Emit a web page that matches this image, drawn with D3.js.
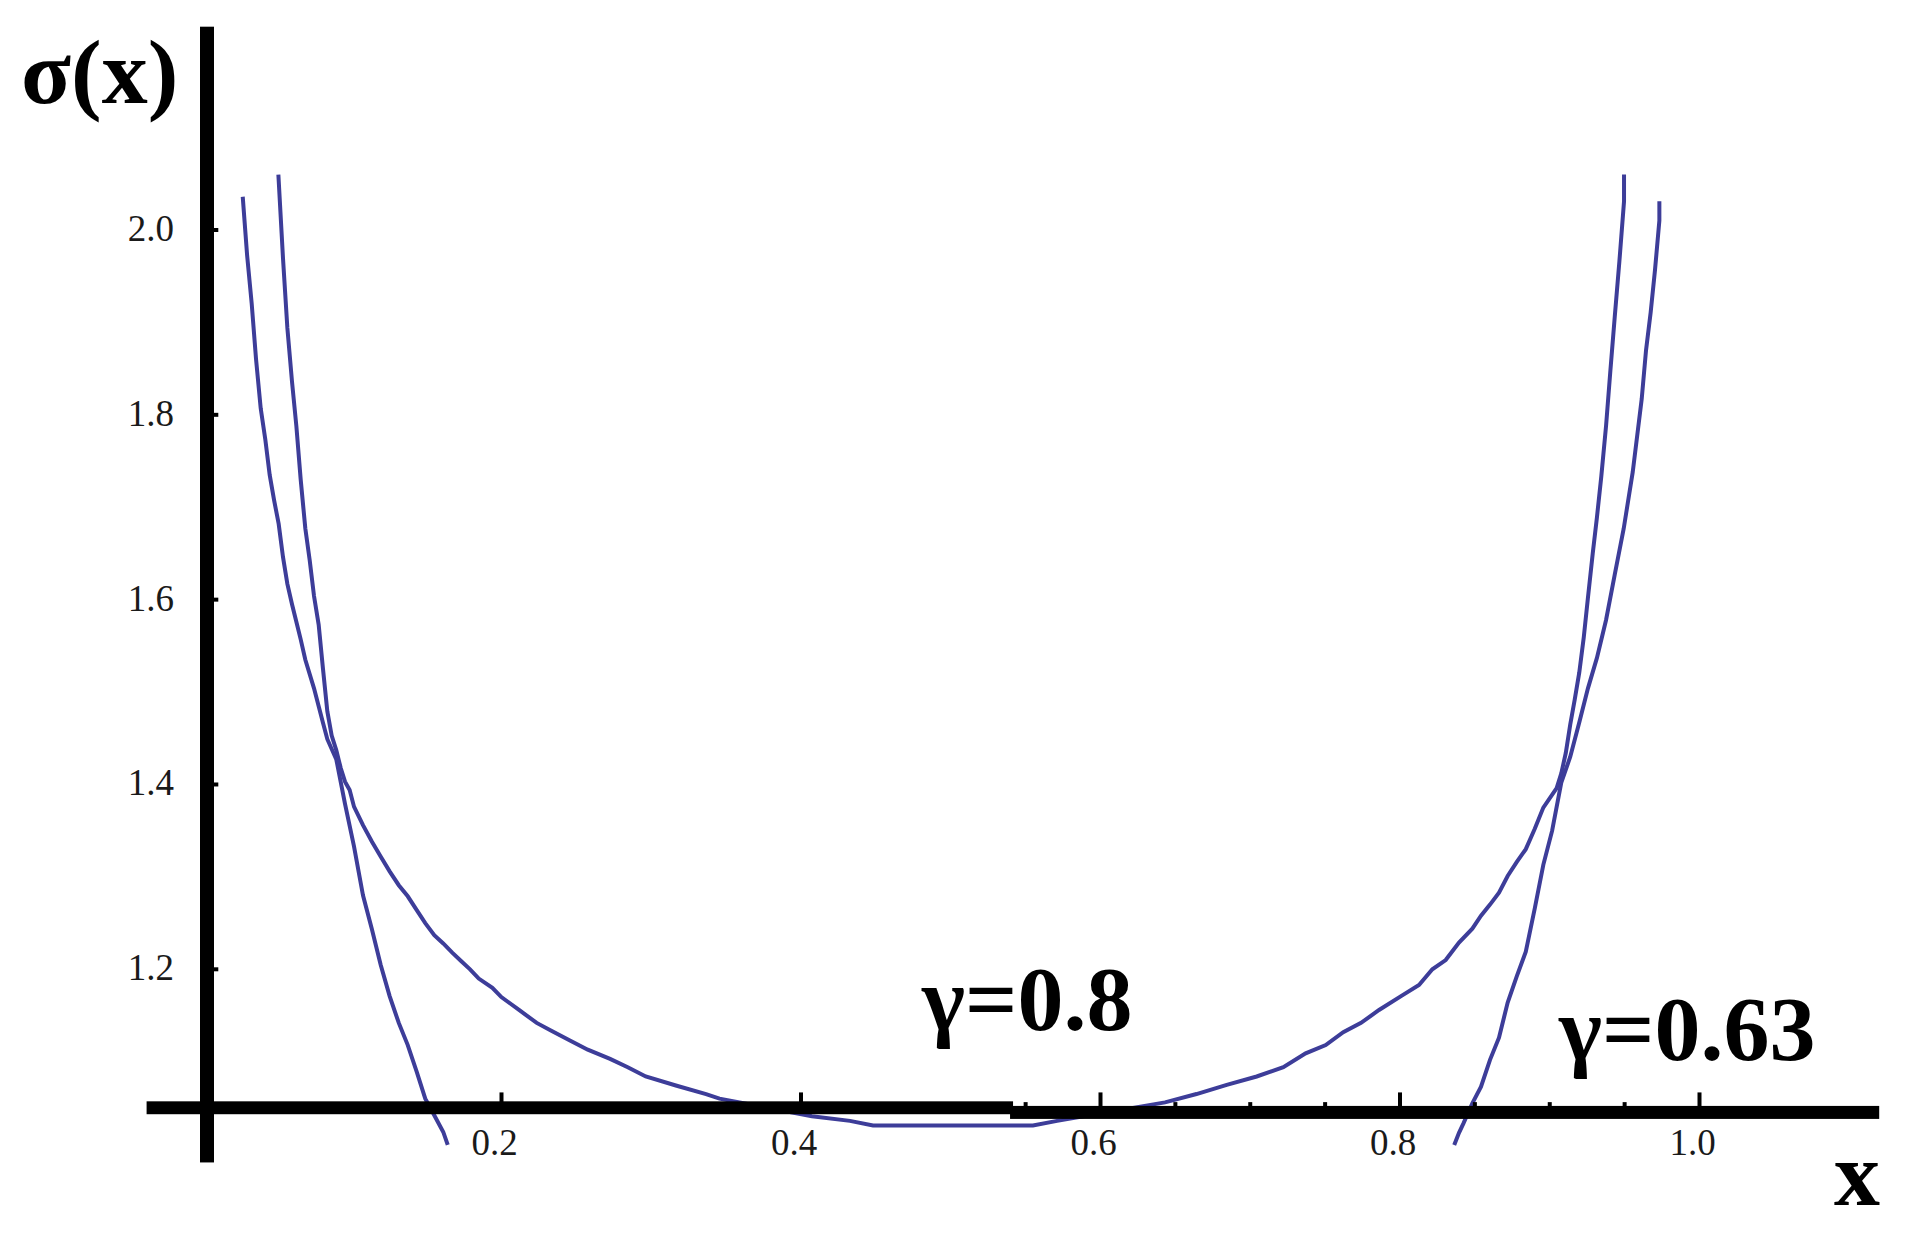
<!DOCTYPE html>
<html>
<head>
<meta charset="utf-8">
<script src="https://cdn.jsdelivr.net/npm/d3@7"></script>
<style>
  html, body { margin: 0; padding: 0; background: #fff; }
  svg { display: block; }
  text { font-family: "Liberation Serif", "Times New Roman", serif; }
</style>
</head>
<body>
<svg id="chart" width="1913" height="1244"></svg>
<script>
// sigma(x) for the two gammas as [x, sigma]
var gamma063Left = [
  [0.0272, 2.036], [0.0301, 1.973], [0.0332, 1.920], [0.0361, 1.860], [0.0392, 1.807],
  [0.0423, 1.773], [0.0452, 1.735], [0.0481, 1.708], [0.0512, 1.682], [0.0541, 1.646],
  [0.0570, 1.617], [0.0601, 1.595], [0.0630, 1.576], [0.0659, 1.557], [0.0690, 1.535],
  [0.0748, 1.504], [0.0806, 1.468], [0.0837, 1.449], [0.0897, 1.427], [0.0955, 1.379],
  [0.1015, 1.333], [0.1075, 1.280], [0.1135, 1.243], [0.1193, 1.205], [0.1253, 1.171],
  [0.1314, 1.142], [0.1374, 1.118], [0.1434, 1.089], [0.1491, 1.060], [0.1551, 1.042],
  [0.1611, 1.024], [0.1641, 1.010]
];
var gamma063Right = [
  [0.8362, 1.010], [0.8394, 1.023], [0.8423, 1.033], [0.8483, 1.055], [0.8541, 1.073],
  [0.8601, 1.102], [0.8661, 1.126], [0.8719, 1.164], [0.8779, 1.192], [0.8840, 1.219],
  [0.8900, 1.266], [0.8957, 1.313], [0.9016, 1.350], [0.9077, 1.402], [0.9137, 1.430],
  [0.9197, 1.467], [0.9255, 1.504], [0.9315, 1.537], [0.9376, 1.578], [0.9434, 1.627],
  [0.9494, 1.677], [0.9554, 1.738], [0.9614, 1.817], [0.9643, 1.870], [0.9674, 1.911],
  [0.9703, 1.957], [0.9732, 2.010], [0.9732, 2.031]
];
var gamma08 = [
  [0.0510, 2.060], [0.0541, 1.969], [0.0570, 1.894], [0.0601, 1.836], [0.0630, 1.788],
  [0.0659, 1.730], [0.0690, 1.677], [0.0719, 1.643], [0.0748, 1.604], [0.0779, 1.573],
  [0.0808, 1.525], [0.0837, 1.479], [0.0866, 1.453], [0.0897, 1.437], [0.0926, 1.418],
  [0.0955, 1.403], [0.0986, 1.394], [0.1015, 1.376], [0.1075, 1.356], [0.1135, 1.338],
  [0.1193, 1.322], [0.1253, 1.306], [0.1314, 1.291], [0.1374, 1.279], [0.1434, 1.264],
  [0.1491, 1.250], [0.1551, 1.237], [0.1611, 1.228], [0.1671, 1.218], [0.1730, 1.209],
  [0.1790, 1.200], [0.1848, 1.190], [0.1939, 1.180], [0.1999, 1.170], [0.2117, 1.156],
  [0.2235, 1.142], [0.2339, 1.133], [0.2457, 1.123], [0.2576, 1.113], [0.2725, 1.103],
  [0.2843, 1.094], [0.2963, 1.084], [0.3170, 1.074], [0.3366, 1.065], [0.3456, 1.060],
  [0.4073, 1.041], [0.4327, 1.036], [0.4481, 1.031], [0.5015, 1.031], [0.5549, 1.031],
  [0.5710, 1.036], [0.6431, 1.056], [0.6641, 1.065], [0.6843, 1.075], [0.7043, 1.084],
  [0.7221, 1.094], [0.7370, 1.109], [0.7504, 1.118], [0.7621, 1.132], [0.7740, 1.142],
  [0.7860, 1.156], [0.8007, 1.171], [0.8127, 1.183], [0.8216, 1.200], [0.8305, 1.210],
  [0.8394, 1.229], [0.8483, 1.244], [0.8541, 1.258], [0.8601, 1.270], [0.8661, 1.283],
  [0.8719, 1.301], [0.8779, 1.316], [0.8840, 1.330], [0.8900, 1.352], [0.8957, 1.375],
  [0.9046, 1.396], [0.9077, 1.412], [0.9107, 1.434], [0.9137, 1.465], [0.9167, 1.492],
  [0.9197, 1.521], [0.9227, 1.559], [0.9255, 1.602], [0.9287, 1.650], [0.9315, 1.689],
  [0.9344, 1.733], [0.9376, 1.788], [0.9405, 1.848], [0.9434, 1.906], [0.9465, 1.966],
  [0.9496, 2.031], [0.9496, 2.060]
];

var xMajorTicks = [0.2, 0.4, 0.6, 0.8, 1.0];
var xMinorTicks = [0.05, 0.1, 0.15, 0.25, 0.3, 0.35, 0.45, 0.5, 0.55, 0.65, 0.7, 0.75, 0.85, 0.9, 0.95];
var yTicks = [1.2, 1.4, 1.6, 1.8, 2.0];
var curveLabels = [
  { text: "\u03b3=0.8", x: 0.4808, y: 1.1347 },
  { text: "\u03b3=0.63", x: 0.9062, y: 1.1022 }
];
var origin = { x: 0, y: 1.05 };
var xAxisExtent = [-0.037, 1.12];
var yAxisExtent = [0.991, 2.22];
var xAxisStep = 0.5416; // the x axis bar drops a few px right of here

var lineColor = "#3d3d99";

var svg = d3.select("#chart");
svg.append("rect").attr("width", 1913).attr("height", 1244).attr("fill", "#fff");

var x = d3.scaleLinear().domain([0, 1]).range([202, 1699.5]);
var y = d3.scaleLinear().domain([1.2, 2.0]).range([969.3, 230]);

var line = d3.line()
  .x(function (d) { return x(d[0]); })
  .y(function (d) { return y(d[1]); })
  .curve(d3.curveLinear);

var curves = svg.append("g").attr("id", "curves");
[gamma063Left, gamma08, gamma063Right].forEach(function (data) {
  curves.append("path")
    .datum(data)
    .attr("d", line)
    .attr("fill", "none")
    .attr("stroke", lineColor)
    .attr("stroke-width", 4)
    .attr("stroke-linejoin", "miter");
});

// axes drawn over the curves, as in the figure
var axes = svg.append("g").attr("id", "axes");
var y0 = y(origin.y);

// ticks first, the bars cover their base
axes.selectAll("line.xmajor")
  .data(xMajorTicks)
  .enter().append("line")
  .attr("class", "xmajor")
  .attr("x1", function (d) { return x(d); })
  .attr("x2", function (d) { return x(d); })
  .attr("y1", y0 - 15.5)
  .attr("y2", y0 + 2)
  .attr("stroke", "#000")
  .attr("stroke-width", 4);

axes.selectAll("line.xminor")
  .data(xMinorTicks)
  .enter().append("line")
  .attr("class", "xminor")
  .attr("x1", function (d) { return x(d); })
  .attr("x2", function (d) { return x(d); })
  .attr("y1", y0 - 5.8)
  .attr("y2", y0 + 2)
  .attr("stroke", "#000")
  .attr("stroke-width", 4);

axes.selectAll("line.ytick")
  .data(yTicks)
  .enter().append("line")
  .attr("class", "ytick")
  .attr("x1", x(origin.x))
  .attr("x2", x(origin.x) + 16.3)
  .attr("y1", function (d) { return y(d); })
  .attr("y2", function (d) { return y(d); })
  .attr("stroke", "#000")
  .attr("stroke-width", 4);

// x axis: left half sits a little higher than the right half
axes.append("rect")
  .attr("x", x(xAxisStep) - 3)
  .attr("y", y0 - 2)
  .attr("width", x(xAxisExtent[1]) - x(xAxisStep) + 3)
  .attr("height", 13)
  .attr("fill", "#000");
axes.append("rect")
  .attr("x", x(xAxisExtent[0]))
  .attr("y", y0 - 6.6)
  .attr("width", x(xAxisStep) - x(xAxisExtent[0]))
  .attr("height", 12.9)
  .attr("fill", "#000");

// y axis
axes.append("rect")
  .attr("x", x(origin.x) - 2)
  .attr("y", y(yAxisExtent[1]))
  .attr("width", 14)
  .attr("height", y(yAxisExtent[0]) - y(yAxisExtent[1]))
  .attr("fill", "#000");

var fmt = d3.format(".1f");

axes.selectAll("text.xlabel")
  .data(xMajorTicks)
  .enter().append("text")
  .attr("class", "xlabel")
  .attr("x", function (d) { return x(d) - 7; })
  .attr("y", y0 + 47)
  .attr("text-anchor", "middle")
  .attr("font-size", 37)
  .attr("fill", "#1a1a1a")
  .text(fmt);

axes.selectAll("text.ylabel")
  .data(yTicks)
  .enter().append("text")
  .attr("class", "ylabel")
  .attr("x", 174)
  .attr("y", function (d) { return y(d) + 11; })
  .attr("text-anchor", "end")
  .attr("font-size", 37)
  .attr("fill", "#1a1a1a")
  .text(fmt);

// axis titles
svg.append("text")
  .attr("x", 21)
  .attr("y", 103)
  .attr("font-size", 92)
  .attr("font-weight", "bold")
  .attr("fill", "#000")
  .text("\u03c3(x)");

svg.append("text")
  .attr("x", 1834)
  .attr("y", 1205)
  .attr("font-size", 92)
  .attr("font-weight", "bold")
  .attr("fill", "#000")
  .text("x");

svg.selectAll("text.curvelabel")
  .data(curveLabels)
  .enter().append("text")
  .attr("class", "curvelabel")
  .attr("x", function (d) { return x(d.x); })
  .attr("y", function (d) { return y(d.y); })
  .attr("font-size", 92)
  .attr("font-weight", "bold")
  .attr("fill", "#000")
  .text(function (d) { return d.text; });
</script>
</body>
</html>
